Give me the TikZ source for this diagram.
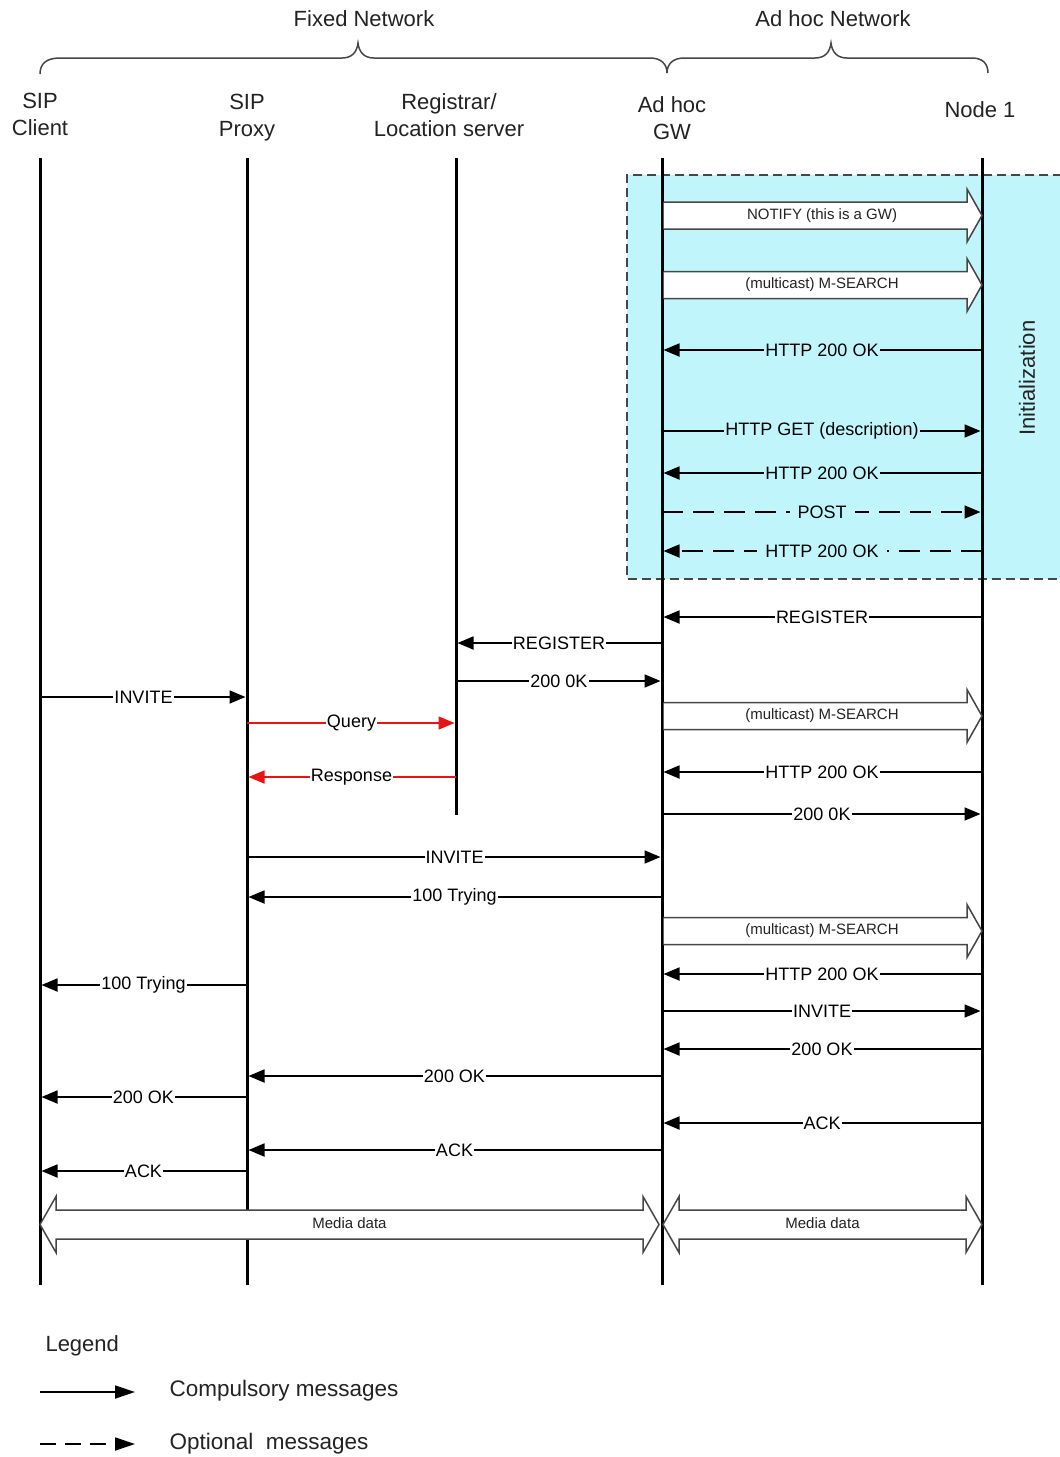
\documentclass[tikz,border=0pt]{standalone}
\usepackage{fontspec}
\setmainfont{Liberation Sans}
\usetikzlibrary{arrows.meta}
\definecolor{cyanbg}{RGB}{192,245,251}
\definecolor{outl}{RGB}{70,70,70}
\definecolor{redmsg}{RGB}{232,20,20}
\definecolor{txt}{RGB}{35,35,35}
\newcommand\smsg[5][]{\draw[msg,#1] (#2 |- 0,#4) -- node[lbl]{#5} (#3 |- 0,#4);}
% single hollow arrow from GW to Node 1 at height #1
\newcommand\hollowmsg[2]{%
  \begin{scope}[shift={(0,#1)}]
    \fill[white] (663.5,-13.5) -- (967,-13.5) -- (967,-26.5) -- (982,0) -- (967,26.5) -- (967,13.5) -- (663.5,13.5) -- cycle;
    \draw[hollow] (663.5,-13.5) -- (967,-13.5) -- (967,-26.5) -- (982,0) -- (967,26.5) -- (967,13.5) -- (663.5,13.5);
    \node[small] at (822,0) {#2};
  \end{scope}}
% double hollow arrow: #1 left tip, #2 right tip, #3 center y
\newcommand\mediamsg[3]{%
  \begin{scope}[shift={(0,#3)}]
    \filldraw[hollow,fill=white] (#1,0) -- (#1+16,-28) -- (#1+16,-14.5) -- (#2-16,-14.5) -- (#2-16,-28) -- (#2,0) -- (#2-16,28) -- (#2-16,14.5) -- (#1+16,14.5) -- (#1+16,28) -- cycle;
    \node[small] at ({(#1+#2)/2},-1) {Media data};
  \end{scope}}
\begin{document}
\begin{tikzpicture}[x=1pt,y=-1pt,
  lifeline/.style={line width=3pt},
  tip/.style={-{Triangle[length=16pt,width=13pt]}},
  msg/.style={line width=1.8pt,tip,shorten >=1.5pt,nodes={fill=white,inner xsep=1pt}},
  opt/.style={dash pattern=on 21pt off 10pt,nodes={inner xsep=8pt}},
  redm/.style={draw=redmsg,line width=1.5pt,-{Triangle[length=16pt,width=13pt,fill=redmsg]}},
  lbl/.style={inner ysep=0pt,font=\fontsize{18}{20}\selectfont},
  narrow/.style={nodes={font=\fontsize{17}{20}\selectfont}},
  cy/.style={nodes={fill=cyanbg}},
  hollow/.style={draw=outl,line width=1.5pt,line join=miter},
  small/.style={font=\fontsize{15}{17}\selectfont,text=txt},
  hdr/.style={font=\fontsize{22}{27}\selectfont,align=center,text=txt},
  brace/.style={draw=outl,line width=1.5pt}
]
\useasboundingbox (0,0) rectangle (1060,1457);
\fill[white] (0,0) rectangle (1060,1457);

% group titles and braces
\node[hdr] (fixed) at (364,19) {Fixed Network};
\node[hdr] (adhoc) at (833,19) {Ad hoc Network};
\draw[brace] (40,74) .. controls (40,64) and (46,58) .. (60,58) -- (342,58)
  .. controls (352,58) and (357,52) .. (358,43) .. controls (359,52) and (364,58) .. (374,58)
  -- (650,58) .. controls (661,58) and (667,64) .. (667,73);
\draw[brace] (667,73) .. controls (667,64) and (673,58) .. (684,58) -- (815,58)
  .. controls (825,58) and (830,52) .. (831,43) .. controls (832,52) and (837,58) .. (847,58)
  -- (972,58) .. controls (983,58) and (988,64) .. (988,73);

% headers
\node[hdr] (hC) at (40,114.5) {SIP\\Client};
\node[hdr] (hP) at (247,117.5) {SIP\\Proxy};
\node[hdr] (hR) at (449,115) {Registrar/\\Location server};
\node[hdr] (hG) at (672,118.5) {Ad hoc\\GW};
\node[hdr] (hN) at (980,110) {Node 1};

% initialization box
\fill[cyanbg] (627,175) rectangle (1062,579);
\draw[outl,line width=1.5pt,dash pattern=on 9pt off 5pt] (1062,175) -- (627,175) -- (627,579) -- (1062,579);
\node[hdr,rotate=90] (init) at (1027,378) {Initialization};

% lifelines
\coordinate (C) at (40,158);
\coordinate (P) at (247,158);
\coordinate (R) at (456,158);
\coordinate (G) at (662,158);
\coordinate (N) at (982,158);
\draw[lifeline] (C) -- (C |- 0,1285);
\draw[lifeline] (P) -- (P |- 0,1285);
\draw[lifeline] (R) -- (R |- 0,815);
\draw[lifeline] (G) -- (G |- 0,1285);
\draw[lifeline] (N) -- (N |- 0,1285);

% initialization phase
\hollowmsg{215.5}{NOTIFY (this is a GW)}
\hollowmsg{285}{(multicast) M-SEARCH}
\smsg[cy]{N}{G}{350}{HTTP 200 OK}
\smsg[cy]{G}{N}{431}{HTTP GET (description)}
\smsg[cy]{N}{G}{473}{HTTP 200 OK}
\smsg[opt,cy]{G}{N}{512}{POST}
\smsg[opt,cy]{N}{G}{551}{HTTP 200 OK}

% registration
\smsg{N}{G}{617}{REGISTER}
\smsg{G}{R}{643}{REGISTER}
\smsg[narrow]{R}{G}{681}{200 0K}

% call setup
\smsg[narrow]{C}{P}{697}{INVITE}
\hollowmsg{716}{(multicast) M-SEARCH}
\smsg[redm]{P}{R}{723}{Query}
\smsg{N}{G}{772}{HTTP 200 OK}
\smsg[redm]{R}{P}{777}{Response}
\smsg{G}{N}{814}{200 0K}
\smsg[narrow]{P}{G}{857}{INVITE}
\smsg{G}{P}{897}{100 Trying}
\hollowmsg{931}{(multicast) M-SEARCH}
\smsg{N}{G}{974}{HTTP 200 OK}
\smsg{P}{C}{985}{100 Trying}
\smsg{G}{N}{1011}{INVITE}
\smsg{N}{G}{1049}{200 OK}
\smsg{G}{P}{1076}{200 OK}
\smsg{P}{C}{1097}{200 OK}
\smsg{N}{G}{1123}{ACK}
\smsg{G}{P}{1150}{ACK}
\smsg{P}{C}{1171}{ACK}

% media
\mediamsg{40}{659}{1224.5}
\mediamsg{663}{982}{1224.5}

% legend
\node[hdr,anchor=west] (leg) at (42,1346) {Legend};
\coordinate (la1) at (40,1392);
\coordinate (lb1) at (135,1392);
\coordinate (la2) at (40,1444);
\coordinate (lb2) at (135,1444);
\draw[line width=1.8pt,-{Triangle[length=20pt,width=13pt]}] (la1) -- (lb1);
\draw[line width=1.8pt,-{Triangle[length=20pt,width=13pt]},dash pattern=on 16pt off 9pt] (la2) -- (lb2);
\node[hdr,anchor=west,font=\fontsize{22.5}{27}\selectfont] (leg1) at (166,1391) {Compulsory messages};
\node[hdr,anchor=west,font=\fontsize{22.5}{27}\selectfont] (leg2) at (166,1444) {Optional\ \ messages};
\end{tikzpicture}
\end{document}
